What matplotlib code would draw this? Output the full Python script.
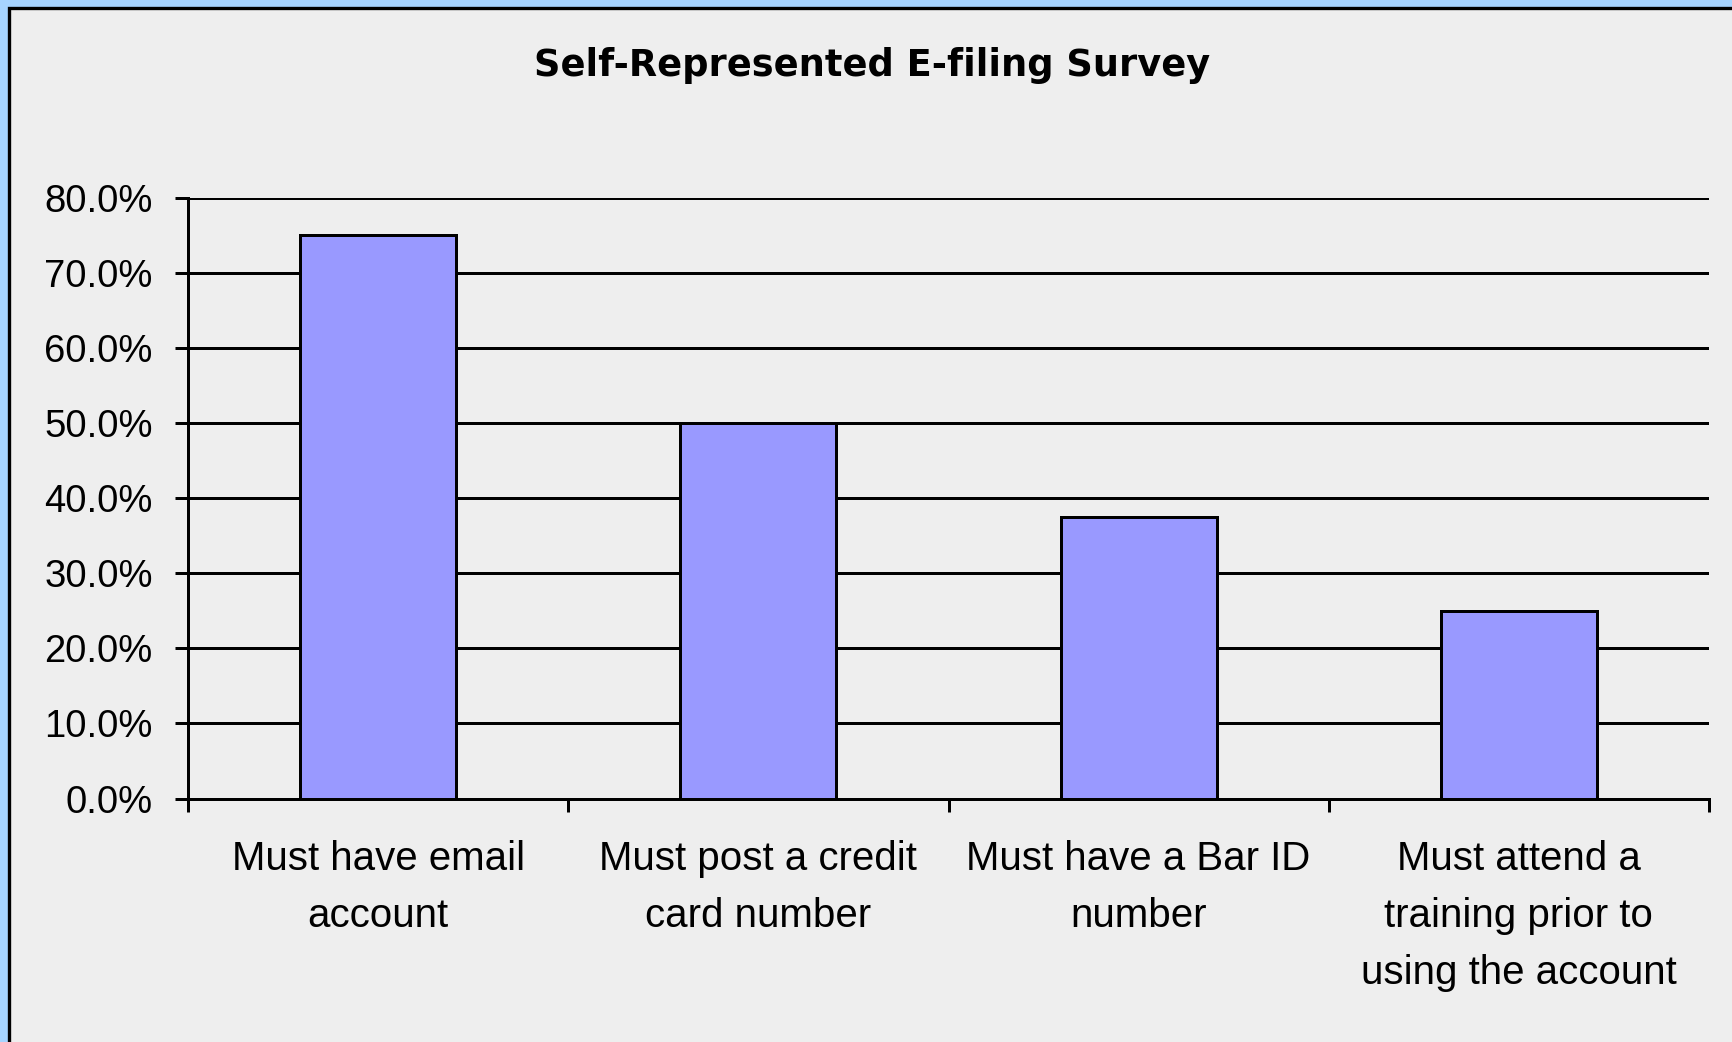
import matplotlib
matplotlib.use("Agg")
import matplotlib.pyplot as plt
from matplotlib.patches import Rectangle
from matplotlib.ticker import FixedLocator, FuncFormatter

categories = ["Must have email\naccount", "Must post a credit\ncard number",
              "Must have a Bar ID\nnumber", "Must attend a\ntraining prior to\nusing the account"]
values = [75.0, 50.0, 37.5, 25.0]
yticks = [0, 10, 20, 30, 40, 50, 60, 70, 80]
title = "Self-Represented E-filing Survey"

W, H = 1732, 1042
LW = 2.16  # 3 px
plt.rcParams['font.family'] = ['Liberation Sans', 'DejaVu Sans']
fig = plt.figure(figsize=(W/100, H/100), dpi=100, facecolor='#A6D4FF')

# inner panel
panel = Rectangle((9/W, -0.05), 1.1, 1 - 8.5/H + 0.05, transform=fig.transFigure,
                  facecolor='#EEEEEE', edgecolor='black', linewidth=2.4, zorder=-10)
fig.patches.append(panel)

ax = fig.add_axes([188/W, 1 - 798.6/H, (1709-188)/W, (798.6-197.7)/H])
ax.set_zorder(1)
ax.set_facecolor('none')
x = list(range(len(categories)))
ax.bar(x, values, width=0.41, color='#9999FF', edgecolor='black', linewidth=LW, zorder=3)
ax.set_xlim(-0.5, len(categories) - 0.5)
ax.set_ylim(0, 80)

ax.set_yticks(yticks)
ax.yaxis.set_major_formatter(FuncFormatter(lambda v, p: f"{v:.1f}%"))
ax.tick_params(axis='y', direction='out', length=9.4, width=LW, pad=16, labelsize=27.5, colors='black')
ax.yaxis.grid(True, color='black', linewidth=LW, zorder=1)
ax.set_axisbelow(True)

ax.set_xticks(x)
ax.set_xticklabels(categories, fontsize=29, linespacing=1.63)
ax.tick_params(axis='x', which='major', length=0, pad=30)
ax.xaxis.set_minor_locator(FixedLocator([i - 0.5 for i in range(len(categories) + 1)]))
ax.tick_params(axis='x', which='minor', direction='out', length=9.4, width=LW)

for s in ['top', 'right']:
    ax.spines[s].set_visible(False)
for s in ['left', 'bottom']:
    ax.spines[s].set_linewidth(LW)
    ax.spines[s].set_zorder(4)

fig.text(872/W, 1 - 65/H, title, ha='center', va='center', fontsize=26.5,
         fontweight='bold', family=['DejaVu Sans'])

fig.savefig('out.png', dpi=100, facecolor=fig.get_facecolor())
